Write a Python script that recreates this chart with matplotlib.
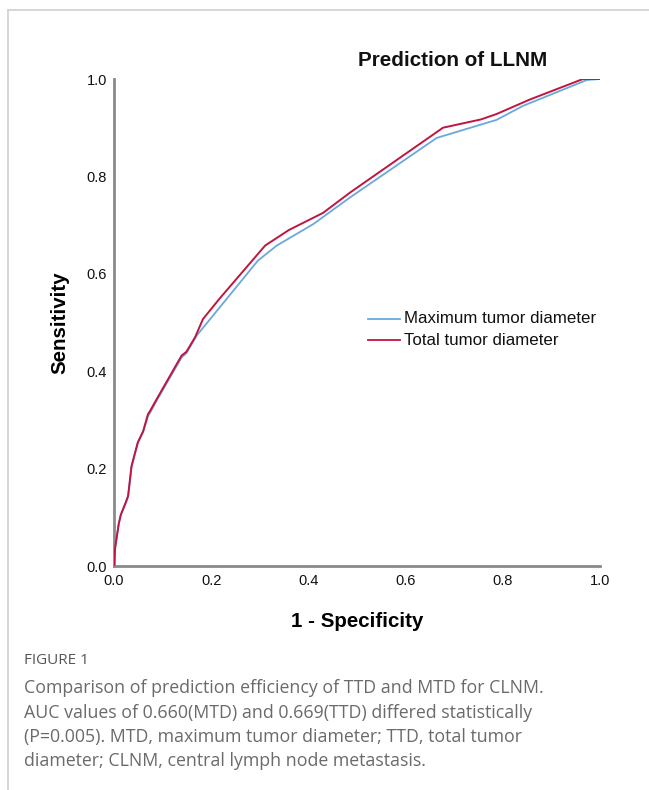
import matplotlib
matplotlib.use("Agg")
import matplotlib.pyplot as plt
from matplotlib.lines import Line2D

# Data
ttd_fpr = [0, 0.002, 0.01, 0.014, 0.025, 0.029, 0.036, 0.041, 0.049, 0.06, 0.07, 0.074,
           0.088, 0.139, 0.149, 0.167, 0.183, 0.218, 0.311, 0.36, 0.43, 0.486, 0.677,
           0.755, 0.787, 0.856, 0.965, 1.0]
ttd_tpr = [0, 0.035, 0.088, 0.105, 0.133, 0.144, 0.205, 0.224, 0.254, 0.277, 0.312, 0.318,
           0.343, 0.432, 0.44, 0.47, 0.507, 0.55, 0.658, 0.69, 0.725, 0.767, 0.9,
           0.917, 0.928, 0.958, 1.0, 1.0]
mtd_fpr = [0, 0.002, 0.01, 0.014, 0.025, 0.029, 0.036, 0.041, 0.049, 0.06, 0.07, 0.074,
           0.088, 0.139, 0.149, 0.17, 0.296, 0.335, 0.41, 0.486, 0.664, 0.787, 0.842,
           0.973, 1.0]
mtd_tpr = [0, 0.035, 0.088, 0.105, 0.131, 0.142, 0.203, 0.222, 0.252, 0.275, 0.308, 0.314,
           0.34, 0.428, 0.437, 0.473, 0.627, 0.658, 0.702, 0.757, 0.879, 0.916, 0.945,
           0.998, 1.0]
tick_vals = [0.0, 0.2, 0.4, 0.6, 0.8, 1.0]
tick_labels = ["0.0", "0.2", "0.4", "0.6", "0.8", "1.0"]
series_names = ["Maximum tumor diameter", "Total tumor diameter"]

BLUE = "#6aa8dc"
RED = "#c01540"
W, H = 649, 790

fig = plt.figure(figsize=(W / 100, H / 100), dpi=100)
fig.patch.set_facecolor("white")

# Border lines of the figure panel
fig.add_artist(Line2D([8 / W, 1.0], [1 - 10 / H, 1 - 10 / H], color="#d0d0d0", lw=1.2))
fig.add_artist(Line2D([8 / W, 8 / W], [0, 1 - 10 / H], color="#d0d0d0", lw=1.2))

ax = fig.add_axes([114 / W, 1 - 566 / H, (600 - 114) / W, (566 - 79) / H])
ax.plot(mtd_fpr, mtd_tpr, color=BLUE, lw=1.3, zorder=2)
ax.plot(ttd_fpr, ttd_tpr, color=RED, lw=1.4, zorder=3)
ax.set_xlim(0, 1)
ax.set_ylim(0, 1)
for s in ["top", "right"]:
    ax.spines[s].set_visible(False)
for s in ["left", "bottom"]:
    ax.spines[s].set_color("#8a8a8a")
    ax.spines[s].set_linewidth(2)
ax.set_xticks(tick_vals)
ax.set_xticklabels(tick_labels)
ax.set_yticks(tick_vals)
ax.set_yticklabels(tick_labels)
ax.tick_params(axis="both", length=0, labelsize=10.5, labelcolor="#111111")
ax.tick_params(axis="x", pad=6)
ax.tick_params(axis="y", pad=5)
for t in ax.get_xticklabels() + ax.get_yticklabels():
    t.set_family("Liberation Sans")

ax.set_xlabel("1 - Specificity", fontsize=14.8, fontweight="bold",
              family="Liberation Sans", labelpad=17)
ax.set_ylabel("Sensitivity", fontsize=14.8, fontweight="bold",
              family="Liberation Sans", labelpad=12)

fig.text(453 / W, 1 - 61 / H, "Prediction of LLNM", ha="center", va="center",
         fontsize=14.9, fontweight="bold", family="Liberation Sans", color="#111111")

# Legend
for i, (name, col) in enumerate(zip(series_names, [BLUE, RED])):
    yy = 1 - (319 + 21 * i) / H
    fig.add_artist(Line2D([368 / W, 400 / W], [yy, yy], color=col, lw=1.3))
    fig.text(404 / W, yy, name, ha="left", va="center", fontsize=12.2,
             family="Liberation Sans", color="#111111")

# Caption
fig.text(24 / W, 1 - 661 / H, "FIGURE 1", ha="left", va="center", fontsize=11,
         family="Open Sans", color="#555555")
caption = ["Comparison of prediction efficiency of TTD and MTD for CLNM.",
           "AUC values of 0.660(MTD) and 0.669(TTD) differed statistically",
           "(P=0.005). MTD, maximum tumor diameter; TTD, total tumor",
           "diameter; CLNM, central lymph node metastasis."]
for i, line in enumerate(caption):
    fig.text(24 / W, 1 - (688 + 24.5 * i) / H, line, ha="left", va="center",
             fontsize=12.8, family="Open Sans", color="#6a6a6a")

fig.savefig("out.png", dpi=100, facecolor="white")
